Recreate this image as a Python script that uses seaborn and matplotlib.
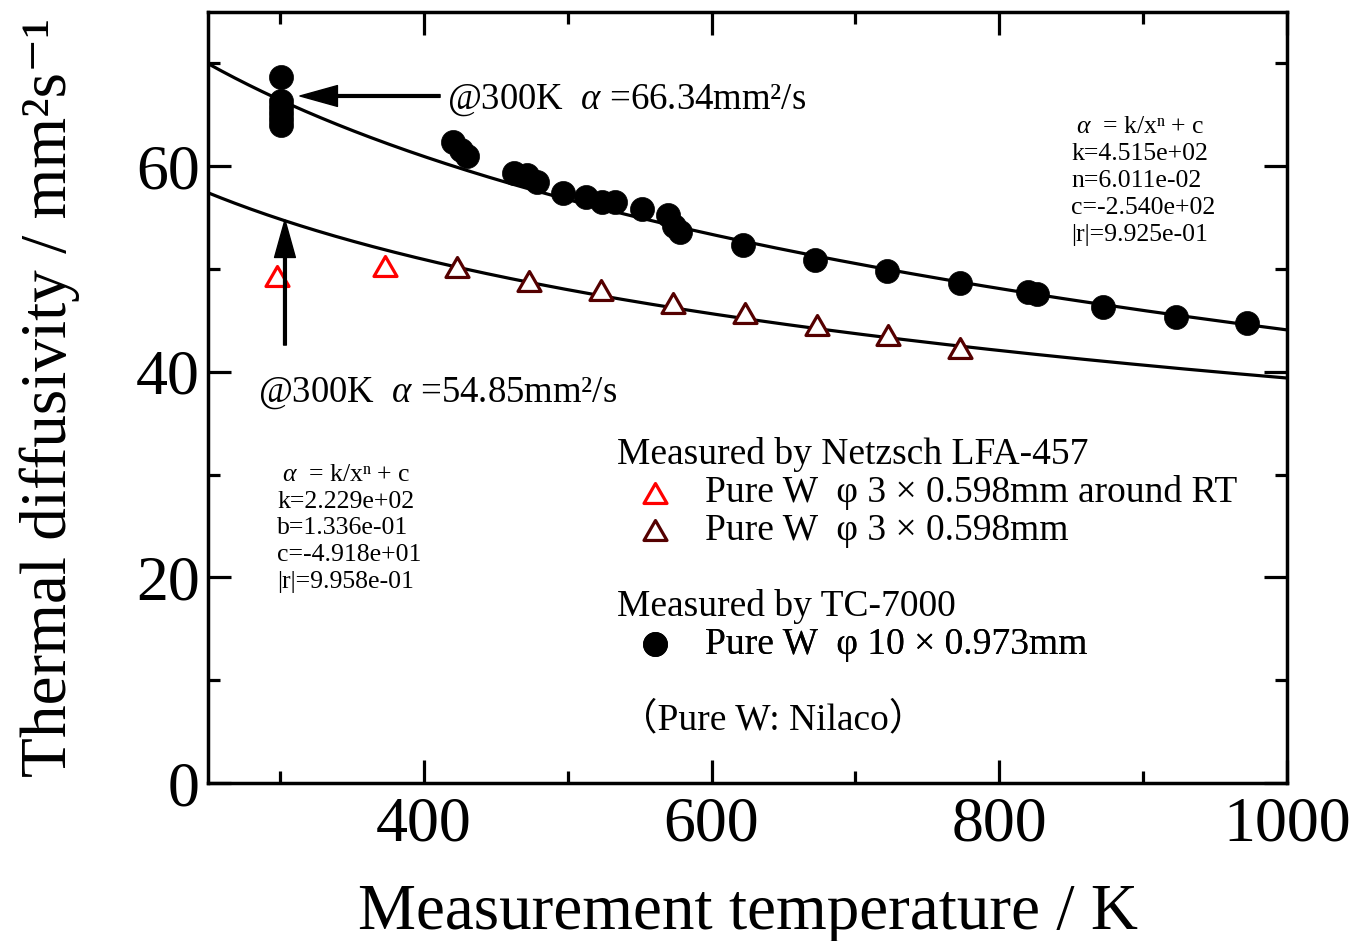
import numpy as np
import pandas as pd
import matplotlib
matplotlib.use("Agg")
import matplotlib.pyplot as plt
from matplotlib.path import Path
from matplotlib.ticker import MultipleLocator
import seaborn as sns

# ---------------- data ----------------
rt_temp = [298, 373]
rt_alpha = [49.3, 50.3]

lfa_temp = [423, 473, 523, 573, 623, 673, 723, 773]
lfa_alpha = [50.2, 48.8, 48.0, 46.7, 45.7, 44.55, 43.6, 42.3]

tc_temp = [301, 301, 301, 301, 301, 301, 420, 426, 430, 463, 472, 479, 497,
           513, 524, 533, 552, 570, 574, 578, 622, 672, 722, 773, 820, 826,
           872, 923, 972]
tc_alpha = [68.7, 66.3, 65.75, 65.2, 64.6, 64.0, 62.35, 61.6, 61.0, 59.35,
            59.15, 58.45, 57.4, 57.0, 56.55, 56.55, 55.8, 55.25, 54.2, 53.6,
            52.35, 50.9, 49.85, 48.6, 47.75, 47.55, 46.3, 45.35, 44.7]

# fitted curves  alpha = k / x^n + c  (parameters printed on the chart)
tc_fit = {"k": 4.515e+02, "n": 6.011e-02, "c": -2.540e+02}
lfa_fit = {"k": 2.229e+02, "n": 1.336e-01, "c": -4.918e+01}

tc_fit_text = [r"$\alpha$  = k/xⁿ + c", "k=4.515e+02", "n=6.011e-02",
               "c=-2.540e+02", "|r|=9.925e-01"]
lfa_fit_text = [r"$\alpha$  = k/xⁿ + c", "k=2.229e+02", "b=1.336e-01",
                "c=-4.918e+01", "|r|=9.958e-01"]

label_rt = "Pure W  φ 3 × 0.598mm around RT"
label_lfa = "Pure W  φ 3 × 0.598mm"
label_tc = "Pure W  φ 10 × 0.973mm"

x_ticks = [400, 600, 800, 1000]
y_ticks = [0, 20, 40, 60]

# ---------------- style ----------------
sns.set_style("ticks")
plt.rcParams["font.family"] = ["Liberation Serif", "Noto Sans CJK JP", "DejaVu Serif"]
plt.rcParams["mathtext.fontset"] = "custom"
plt.rcParams["mathtext.rm"] = "Liberation Serif"
plt.rcParams["mathtext.it"] = "Liberation Serif:italic"
plt.rcParams["mathtext.bf"] = "Liberation Serif:bold"
plt.rcParams["axes.linewidth"] = 2.5
for key in ("text.color", "axes.labelcolor", "xtick.color", "ytick.color",
            "axes.edgecolor"):
    plt.rcParams[key] = "black"

W, H = 1357, 941
fig = plt.figure(figsize=(W / 100, H / 100), dpi=100)
fig.patch.set_facecolor("white")
ax = fig.add_axes([208 / W, 1 - 783 / H, (1287 - 208) / W, (783 - 12) / H])
ax.set_facecolor("white")


def fx(px):
    return px / W


def fy(py):
    return 1 - py / H


# fitted curves
xs = np.linspace(250, 1000, 400)
for p in (tc_fit, lfa_fit):
    ys = p["k"] / xs ** p["n"] + p["c"]
    sns.lineplot(x=xs, y=ys, ax=ax, color="black", linewidth=2.3, legend=False,
                 zorder=2)

tri = Path([(0, 0.433), (-0.5, -0.433), (0.5, -0.433), (0, 0.433)],
           [Path.MOVETO, Path.LINETO, Path.LINETO, Path.CLOSEPOLY])

sns.scatterplot(x=rt_temp, y=rt_alpha, ax=ax, marker=tri, s=275,
                facecolor="white", edgecolor="#ff0000", linewidth=2.3,
                legend=False, zorder=3)
h_rt = ax.collections[-1]
sns.scatterplot(x=lfa_temp, y=lfa_alpha, ax=ax, marker=tri, s=275,
                facecolor="white", edgecolor="#550000", linewidth=2.3,
                legend=False, zorder=3)
h_lfa = ax.collections[-1]
sns.scatterplot(x=tc_temp, y=tc_alpha, ax=ax, marker="o", s=300,
                facecolor="black", edgecolor="black", linewidth=0.5,
                legend=False, zorder=4)
h_tc = ax.collections[-1]

# axes
ax.set_xlim(250, 1000)
ax.set_ylim(0, 75)
ax.set_xticks(x_ticks)
ax.set_yticks(y_ticks)
ax.xaxis.set_minor_locator(MultipleLocator(100))
ax.yaxis.set_minor_locator(MultipleLocator(10))
ax.tick_params(which="both", direction="in", top=True, right=True, width=2.3,
               colors="black")
ax.tick_params(which="major", length=16.5)
ax.tick_params(which="minor", length=8.5)
ax.tick_params(axis="x", labelsize=46, pad=9.5)
ax.tick_params(axis="y", labelsize=46, pad=6)
for s in ax.spines.values():
    s.set_visible(True)
    s.set_linewidth(2.5)
    s.set_color("black")

ax.set_xlabel("Measurement temperature / K", fontsize=47, labelpad=21)
ax.set_ylabel("Thermal diffusivity / mm²s⁻¹", fontsize=47, labelpad=40)

# annotations at 300 K
arrow_kw = dict(facecolor="black", edgecolor="black", width=2, headwidth=15,
                headlength=27, shrink=0)
ax.annotate("", xy=(313.9, 66.83), xytext=(411.3, 66.83), arrowprops=arrow_kw)
ax.text(416.1, 66.44, r"@300K  $\alpha$ =66.34mm²/s", fontsize=26.5,
        va="center", ha="left")
ax.annotate("", xy=(303.5, 54.77), xytext=(303.5, 42.6), arrowprops=arrow_kw)
ax.text(284.75, 37.94, r"@300K  $\alpha$ =54.85mm²/s", fontsize=26.5,
        va="center", ha="left")

# fit parameter boxes
for i, t in enumerate(tc_fit_text):
    x0 = 1076 if i == 0 else 1071
    fig.text(fx(x0), fy(127 + 27 * i), t, fontsize=18.5, va="center", ha="left")
for i, t in enumerate(lfa_fit_text):
    x0 = 282 if i == 0 else 277
    fig.text(fx(x0), fy(475 + 26.7 * i), t, fontsize=18.5, va="center", ha="left")

# legend block
fig.text(fx(617), fy(455), "Measured by Netzsch LFA-457", fontsize=27,
         va="center", ha="left")
fig.text(fx(617), fy(607), "Measured by TC-7000", fontsize=27,
         va="center", ha="left")
fig.text(fx(620), fy(720), "（Pure W: Nilaco）", fontsize=27,
         va="center", ha="left")

for h, lab, yy in ((h_rt, label_rt, 493), (h_lfa, label_lfa, 531),
                   (h_tc, label_tc, 645)):
    leg = ax.legend([h], [lab], loc="center left",
                    bbox_to_anchor=(fx(636), fy(yy)),
                    bbox_transform=fig.transFigure, frameon=False,
                    borderpad=0, borderaxespad=0, handlelength=1.0,
                    handletextpad=0.83, fontsize=27, scatterpoints=1)
    ax.add_artist(leg)

fig.savefig("out.png", dpi=100)
